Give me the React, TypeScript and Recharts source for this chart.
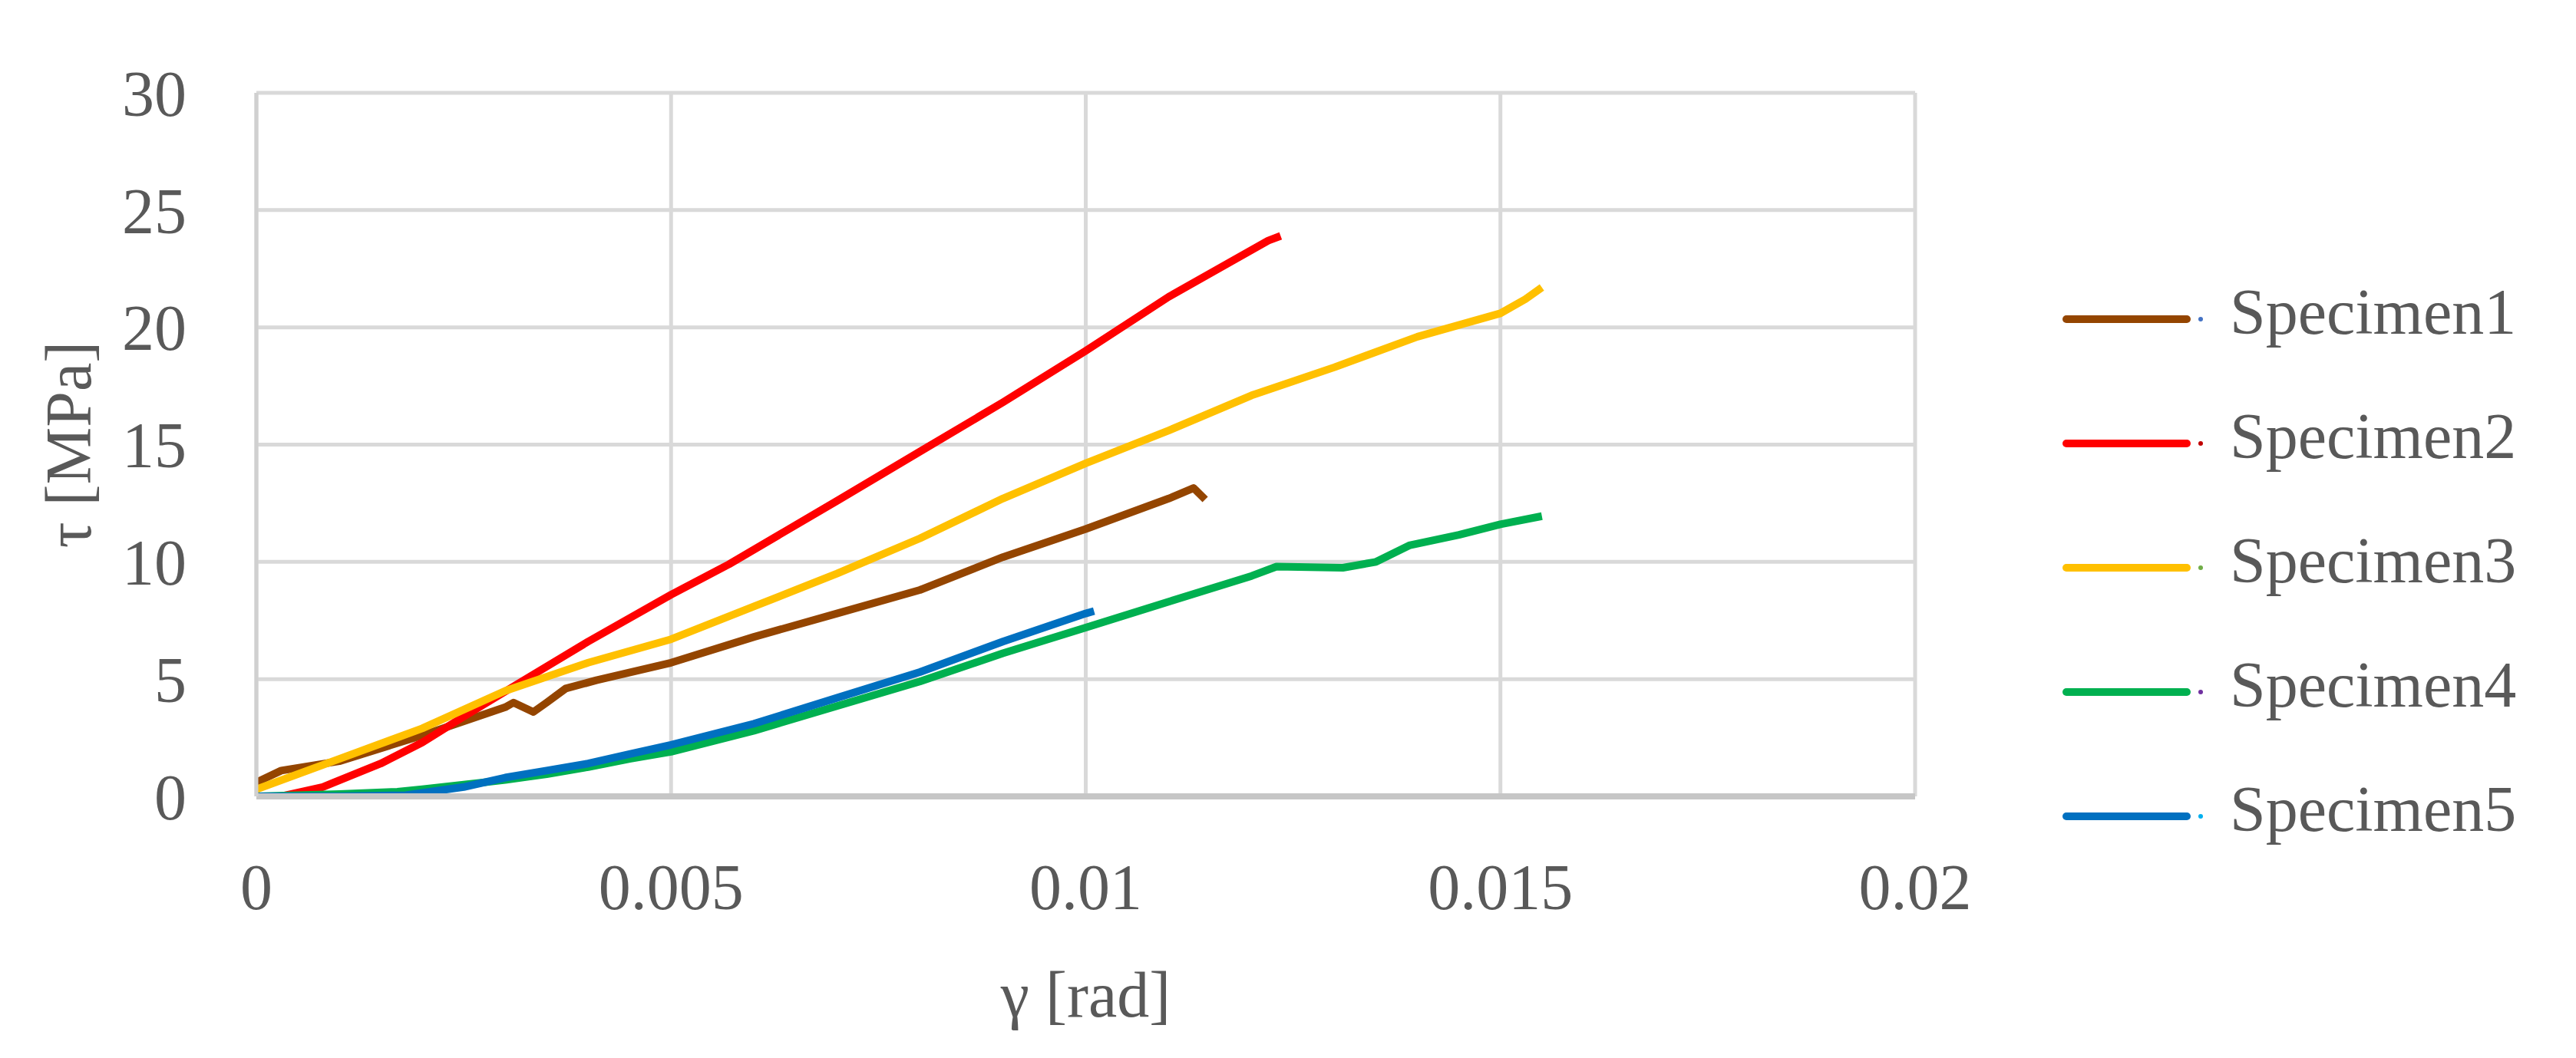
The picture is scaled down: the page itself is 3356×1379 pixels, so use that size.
import { LineChart, Line, XAxis, YAxis, CartesianGrid, Legend } from 'recharts'

document.body.style.margin = '0'

const FONT = "'Liberation Serif', 'Times New Roman', serif"
const TEXT = '#595959'
const GRID = '#d9d9d9'

const xTicks = [0, 0.005, 0.01, 0.015, 0.02]
const yTicks = [0, 5, 10, 15, 20, 25, 30]

// [gamma (rad), tau (MPa)]
const specimen1: [number, number][] = [
  [0, 0.6], [0.0003, 1.1], [0.001, 1.5], [0.002, 2.6], [0.003, 3.8], [0.0031, 4.0],
  [0.00334, 3.6], [0.0035, 4.0], [0.00373, 4.6], [0.0041, 4.95], [0.005, 5.7],
  [0.006, 6.8], [0.007, 7.8], [0.008, 8.8], [0.009, 10.2], [0.01, 11.4],
  [0.011, 12.7], [0.0113, 13.15], [0.01144, 12.66],
]
const specimen2: [number, number][] = [
  [0.0003, 0], [0.0008, 0.4], [0.0015, 1.4], [0.002, 2.3], [0.0025, 3.4], [0.0032, 4.9],
  [0.004, 6.6], [0.005, 8.6], [0.0057, 9.9], [0.007, 12.6], [0.008, 14.7], [0.009, 16.8],
  [0.01, 19.0], [0.011, 21.3], [0.0117, 22.7], [0.0122, 23.7], [0.01235, 23.9],
]
const specimen3: [number, number][] = [
  [0, 0.3], [0.001, 1.6], [0.002, 2.9], [0.003, 4.5], [0.004, 5.7], [0.005, 6.7],
  [0.006, 8.1], [0.007, 9.5], [0.008, 11.0], [0.009, 12.7], [0.01, 14.2], [0.011, 15.6],
  [0.012, 17.1], [0.013, 18.3], [0.014, 19.6], [0.015, 20.6], [0.0153, 21.2], [0.0155, 21.7],
]
const specimen4: [number, number][] = [
  [0, 0], [0.0005, 0.05], [0.001, 0.1], [0.0017, 0.2], [0.002, 0.3], [0.0025, 0.5],
  [0.003, 0.7], [0.0035, 0.95], [0.004, 1.25], [0.0045, 1.6], [0.005, 1.9], [0.006, 2.8],
  [0.007, 3.85], [0.008, 4.9], [0.009, 6.1], [0.01, 7.2], [0.011, 8.3], [0.012, 9.4],
  [0.0123, 9.8], [0.0131, 9.75], [0.0135, 10.0], [0.0139, 10.7], [0.0145, 11.15],
  [0.015, 11.6], [0.0155, 11.95],
]
const specimen5: [number, number][] = [
  [0, 0], [0.001, 0], [0.0018, 0.05], [0.002, 0.15], [0.0025, 0.4], [0.003, 0.8],
  [0.0035, 1.1], [0.004, 1.4], [0.0045, 1.8], [0.005, 2.2], [0.006, 3.1], [0.007, 4.2],
  [0.008, 5.3], [0.009, 6.6], [0.01, 7.8], [0.0101, 7.9],
]

const series = [
  { name: 'Specimen1', color: '#944500', marker: '#4472C4', points: specimen1 },
  { name: 'Specimen2', color: '#FF0000', marker: '#C00000', points: specimen2 },
  { name: 'Specimen3', color: '#FFC000', marker: '#70AD47', points: specimen3 },
  { name: 'Specimen4', color: '#00B050', marker: '#7030A0', points: specimen4 },
  { name: 'Specimen5', color: '#0070C0', marker: '#00B0F0', points: specimen5 },
]

function LegendBox() {
  return (
    <div style={{ fontFamily: FONT, color: TEXT, fontSize: 84 }}>
      {series.map((s) => (
        <div key={s.name} style={{ display: 'flex', alignItems: 'center', height: 162 }}>
          <svg width={224} height={24}>
            <line x1={11} y1={12} x2={168} y2={12} stroke={s.color} strokeWidth={10} strokeLinecap="round" />
            <circle cx={186} cy={12} r={3} fill={s.marker} />
          </svg>
          <span style={{ position: 'relative', top: -9, lineHeight: 1 }}>{s.name}</span>
        </div>
      ))}
    </div>
  )
}

function XTitle({ viewBox }: any) {
  const cx = viewBox.x + viewBox.width / 2
  return (
    <text x={cx} y={viewBox.y + 287} textAnchor="middle" fill={TEXT} fontSize={84} fontFamily={FONT}>
      γ [rad]
    </text>
  )
}

function YTitle({ viewBox }: any) {
  const cy = viewBox.y + viewBox.height / 2
  const cx = 89
  return (
    <text
      x={cx}
      y={cy}
      transform={`rotate(-90 ${cx} ${cy})`}
      textAnchor="middle"
      dominantBaseline="central"
      fill={TEXT}
      fontSize={84}
      fontFamily={FONT}
    >
      τ [MPa]
    </text>
  )
}

export default function App() {
  return (
    <div style={{ width: 3356, height: 1379, background: '#fff', position: 'relative' }}>
      <LineChart width={3356} height={1379} margin={{ top: 121, right: 861, bottom: 0, left: 0 }}>
        <CartesianGrid stroke={GRID} strokeWidth={5} />
        <XAxis
          type="number"
          dataKey="gamma"
          domain={[0, 0.02]}
          ticks={xTicks}
          allowDataOverflow
          tickFormatter={(v: number) => String(v)}
          tickLine={false}
          tickSize={0}
          tickMargin={87}
          axisLine={{ stroke: '#c6c6c6', strokeWidth: 8 }}
          tick={{ fill: TEXT, fontSize: 84, fontFamily: FONT }}
          height={341}
          label={XTitle}
        />
        <YAxis
          type="number"
          domain={[0, 30]}
          ticks={yTicks}
          allowDataOverflow
          tickLine={false}
          tickSize={0}
          tickMargin={91}
          axisLine={{ stroke: '#d0d0d0', strokeWidth: 5 }}
          tick={{ fill: TEXT, fontSize: 84, fontFamily: FONT }}
          width={334}
          label={YTitle}
        />
        <Legend
          layout="vertical"
          align="center"
          verticalAlign="middle"
          wrapperStyle={{ left: 2681, top: 335, width: 660 }}
          content={() => <LegendBox />}
        />
        {series.map((s) => (
          <Line
            key={s.name}
            name={s.name}
            data={s.points.map(([gamma, tau]) => ({ gamma, tau }))}
            dataKey="tau"
            type="linear"
            stroke={s.color}
            strokeWidth={10}
            strokeLinejoin="round"
            dot={false}
            activeDot={false}
            isAnimationActive={false}
          />
        ))}
      </LineChart>
    </div>
  )
}
